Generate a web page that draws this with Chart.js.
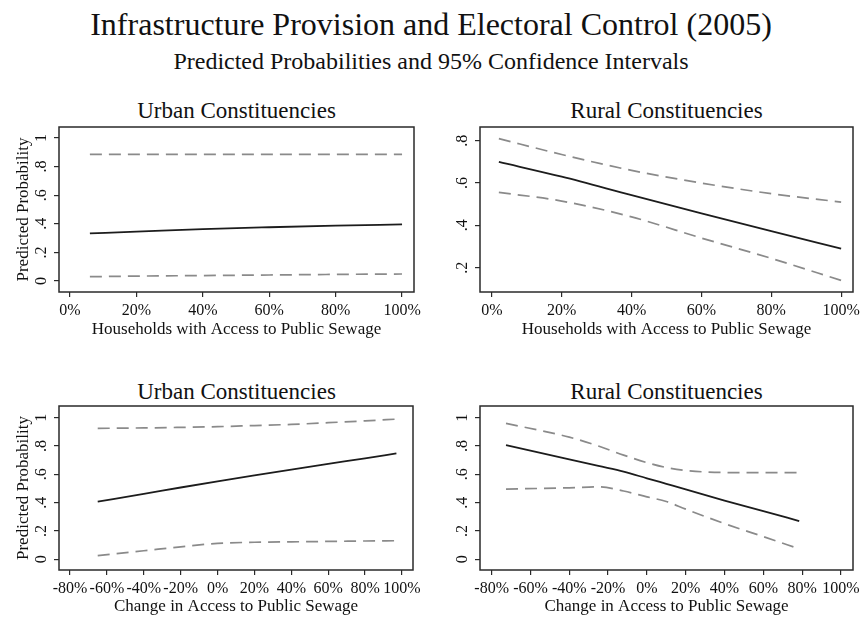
<!DOCTYPE html>
<html>
<head>
<meta charset="utf-8">
<title>Infrastructure Provision and Electoral Control (2005)</title>
<script src="https://cdn.jsdelivr.net/npm/chart.js@4.4.1/dist/chart.umd.min.js"></script>
<style>
  html, body { margin: 0; padding: 0; background: #fff; }
  body {
    position: relative;
    width: 865px;
    height: 617px;
    overflow: hidden;
    font-family: "Liberation Serif", "Times New Roman", serif;
    color: #111;
  }
  .head { position: absolute; left: 0; width: 862px; text-align: center; white-space: nowrap; }
  #mainTitle { top: 6px; font-size: 32px; line-height: 36px; }
  #subTitle { top: 47px; font-size: 24px; line-height: 28px; }
  .ptitle { position: absolute; text-align: center; font-size: 23px; line-height: 26px; white-space: nowrap; }
  canvas { position: absolute; }
</style>
</head>
<body>
<div id="mainTitle" class="head">Infrastructure Provision and Electoral Control (2005)</div>
<div id="subTitle" class="head">Predicted Probabilities and 95% Confidence Intervals</div>

<div class="ptitle" style="left:59px; width:355px; top:98px;">Urban Constituencies</div>
<div class="ptitle" style="left:480px; width:373px; top:98px;">Rural Constituencies</div>
<div class="ptitle" style="left:59px; width:355px; top:379px;">Urban Constituencies</div>
<div class="ptitle" style="left:480px; width:373px; top:379px;">Rural Constituencies</div>

<canvas id="urbanLevel" width="430" height="250" style="left:0; top:95px;"></canvas>
<canvas id="ruralLevel" width="435" height="250" style="left:430px; top:95px;"></canvas>
<canvas id="urbanChange" width="430" height="242" style="left:0; top:375px;"></canvas>
<canvas id="ruralChange" width="435" height="242" style="left:430px; top:375px;"></canvas>

<script>
(function () {
  const SERIF = '"Liberation Serif", "Times New Roman", serif';

  // ---- data ----------------------------------------------------------
  // share of households with public sewage (%), urban constituencies
  const urbanLevelX = [6, 20, 40, 60, 80, 100];
  const urbanLevelFit = [0.333, 0.345, 0.363, 0.376, 0.387, 0.396];
  const urbanLevelHi = [0.886, 0.886, 0.886, 0.886, 0.886, 0.886];
  const urbanLevelLo = [0.03, 0.034, 0.038, 0.042, 0.046, 0.049];

  // share of households with public sewage (%), rural constituencies
  const ruralLevelX = [2, 20, 40, 60, 80, 100];
  const ruralLevelFit = [0.70, 0.63, 0.543, 0.457, 0.373, 0.29];
  const ruralLevelHi = [0.81, 0.735, 0.66, 0.60, 0.55, 0.51];
  const ruralLevelLo = [0.556, 0.515, 0.44, 0.34, 0.244, 0.14];

  // change in access to public sewage (%), urban constituencies
  const urbanChangeX = [-65, -40, -20, 0, 20, 40, 60, 80, 97];
  const urbanChangeFit = [0.407, 0.462, 0.507, 0.551, 0.593, 0.634, 0.674, 0.713, 0.748];
  const urbanChangeHi = [0.925, 0.928, 0.932, 0.937, 0.945, 0.953, 0.965, 0.978, 0.99];
  const urbanChangeLo = [0.026, 0.06, 0.088, 0.112, 0.12, 0.123, 0.126, 0.129, 0.131];

  // change in access to public sewage (%), rural constituencies
  const ruralChangeX = [-72.6, -40, -25, -12, 0, 10, 20, 40, 60, 78.5];
  const ruralChangeFit = [0.807, 0.706, 0.659, 0.619, 0.572, 0.533, 0.494, 0.415, 0.340, 0.27];
  const ruralChangeHi = [0.96, 0.863, 0.80, 0.736, 0.683, 0.648, 0.627, 0.613, 0.612, 0.612];
  const ruralChangeLo = [0.496, 0.505, 0.512, 0.482, 0.441, 0.408, 0.354, 0.252, 0.16, 0.073];

  // ---- ticks ---------------------------------------------------------
  const levelTicks = [0, 20, 40, 60, 80, 100];
  const changeTicks = [-80, -60, -40, -20, 0, 20, 40, 60, 80, 100];
  const probTicks = [0, 0.2, 0.4, 0.6, 0.8, 1];
  const probTickLabels = ["0", ".2", ".4", ".6", ".8", "1"];
  const ruralProbTicks = [0.2, 0.4, 0.6, 0.8];
  const ruralProbTickLabels = [".2", ".4", ".6", ".8"];

  const LEVEL_TITLE = "Households with Access to Public Sewage";
  const CHANGE_TITLE = "Change in Access to Public Sewage";
  const Y_TITLE = "Predicted Probability";

  const pts = (xs, ys) => xs.map((x, i) => ({ x: x, y: ys[i] }));

  // Stata-style frame around the plot region
  const framePlugin = {
    id: "frame",
    afterDatasetsDraw(chart) {
      const a = chart.chartArea;
      const ctx = chart.ctx;
      ctx.save();
      ctx.strokeStyle = "#2a2a2a";
      ctx.lineWidth = 1.5;
      ctx.strokeRect(a.left, a.top, a.right - a.left, a.bottom - a.top);
      ctx.restore();
    },
  };

  // y tick labels run bottom-to-top, so they are drawn rotated
  const rotatedYLabels = {
    id: "rotatedYLabels",
    afterDraw(chart, args, opts) {
      const s = chart.scales.y;
      const ctx = chart.ctx;
      ctx.save();
      ctx.font = "16px " + SERIF;
      ctx.fillStyle = "#111";
      ctx.textAlign = "center";
      ctx.textBaseline = "middle";
      opts.values.forEach((v, i) => {
        const y = s.getPixelForValue(v);
        ctx.save();
        ctx.translate(chart.chartArea.left - 17, y);
        ctx.rotate(-Math.PI / 2);
        ctx.fillText(opts.labels[i], 0, 0);
        ctx.restore();
      });
      ctx.restore();
    },
  };

  function fixedTicks(values) {
    return (scale) => {
      scale.ticks = values.map((v) => ({ value: v }));
    };
  }

  function band(label, data) {
    return {
      label: label,
      data: data,
      borderColor: "#8a8a8a",
      borderWidth: 1.7,
      borderDash: [12, 7],
      pointRadius: 0,
      cubicInterpolationMode: "monotone",
    };
  }

  function makePanel(id, cfg) {
    const ctx = document.getElementById(id).getContext("2d");
    return new Chart(ctx, {
      type: "line",
      data: {
        datasets: [
          band("Upper", pts(cfg.x, cfg.hi)),
          band("Lower", pts(cfg.x, cfg.lo)),
          {
            label: "Predicted",
            data: pts(cfg.x, cfg.fit),
            borderColor: "#1c1c1c",
            borderWidth: 1.8,
            pointRadius: 0,
            cubicInterpolationMode: "monotone",
          },
        ],
      },
      plugins: [framePlugin, rotatedYLabels],
      options: {
        responsive: false,
        animation: false,
        events: [],
        layout: { padding: cfg.pad },
        plugins: {
          legend: { display: false },
          tooltip: { enabled: false },
          rotatedYLabels: { values: cfg.yTicks, labels: cfg.yLabels },
        },
        scales: {
          x: {
            type: "linear",
            min: cfg.xMin,
            max: cfg.xMax,
            afterBuildTicks: fixedTicks(cfg.xTicks),
            afterFit(scale) { scale.height = cfg.xHeight; },
            border: { display: false },
            grid: { drawOnChartArea: false, drawTicks: true, tickLength: 5, color: "#2a2a2a", lineWidth: 1.2 },
            ticks: {
              padding: 4,
              maxRotation: 0,
              autoSkip: false,
              color: "#111",
              font: { family: SERIF, size: 16 },
              callback: (v) => v + "%",
            },
            title: {
              display: true,
              text: cfg.xTitle,
              color: "#111",
              font: { family: SERIF, size: 17, lineHeight: 1.2 },
              padding: { top: 0, bottom: cfg.xTitlePad },
            },
          },
          y: {
            type: "linear",
            min: cfg.yMin,
            max: cfg.yMax,
            afterBuildTicks: fixedTicks(cfg.yTicks),
            afterFit(scale) { scale.width = cfg.yWidth; },
            border: { display: false },
            grid: { drawOnChartArea: false, drawTicks: true, tickLength: 5, color: "#2a2a2a", lineWidth: 1.2 },
            ticks: { display: false },
            title: {
              display: !!cfg.yTitle,
              text: cfg.yTitle || "",
              color: "#111",
              font: { family: SERIF, size: 17, lineHeight: 1.2 },
              padding: { top: 1, bottom: 0 },
            },
          },
        },
      },
    });
  }

  makePanel("urbanLevel", {
    x: urbanLevelX, fit: urbanLevelFit, hi: urbanLevelHi, lo: urbanLevelLo,
    xMin: -3.3, xMax: 103.6, xTicks: levelTicks, xTitle: LEVEL_TITLE,
    yMin: -0.077, yMax: 1.077, yTicks: probTicks, yLabels: probTickLabels, yTitle: Y_TITLE,
    pad: { left: 12, right: 16, top: 32, bottom: 0 }, yWidth: 47, xHeight: 53, xTitlePad: 5,
  });

  makePanel("ruralLevel", {
    x: ruralLevelX, fit: ruralLevelFit, hi: ruralLevelHi, lo: ruralLevelLo,
    xMin: -3.4, xMax: 103.4, xTicks: levelTicks, xTitle: LEVEL_TITLE,
    yMin: 0.085, yMax: 0.865, yTicks: ruralProbTicks, yLabels: ruralProbTickLabels, yTitle: null,
    pad: { left: 0, right: 12, top: 32, bottom: 0 }, yWidth: 50, xHeight: 53, xTitlePad: 5,
  });

  makePanel("urbanChange", {
    x: urbanChangeX, fit: urbanChangeFit, hi: urbanChangeHi, lo: urbanChangeLo,
    xMin: -86, xMax: 106, xTicks: changeTicks, xTitle: CHANGE_TITLE,
    yMin: -0.076, yMax: 1.083, yTicks: probTicks, yLabels: probTickLabels, yTitle: Y_TITLE,
    pad: { left: 12, right: 17, top: 31, bottom: 0 }, yWidth: 47, xHeight: 47, xTitlePad: 0,
  });

  makePanel("ruralChange", {
    x: ruralChangeX, fit: ruralChangeFit, hi: ruralChangeHi, lo: ruralChangeLo,
    xMin: -86, xMax: 106.2, xTicks: changeTicks, xTitle: CHANGE_TITLE,
    yMin: -0.076, yMax: 1.083, yTicks: probTicks, yLabels: probTickLabels, yTitle: null,
    pad: { left: 0, right: 12, top: 31, bottom: 0 }, yWidth: 50, xHeight: 47, xTitlePad: 0,
  });
})();
</script>
</body>
</html>
